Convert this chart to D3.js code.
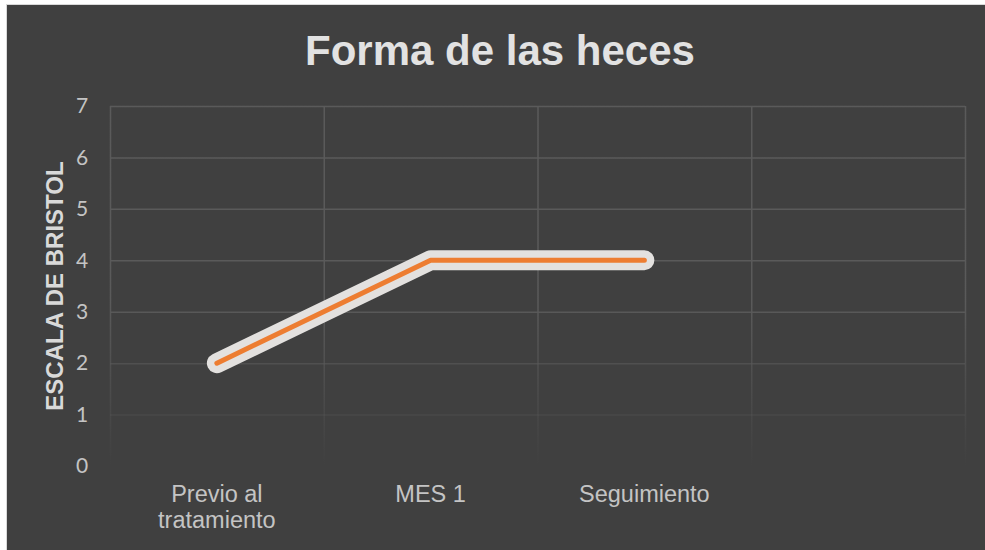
<!DOCTYPE html>
<html>
<head>
<meta charset="utf-8">
<script src="https://cdn.jsdelivr.net/npm/d3@7"></script>
<style>
  body { margin: 0; background: #ffffff; }
</style>
</head>
<body>
<script>
// data
var categories = [["Previo al", "tratamiento"], ["MES 1"], ["Seguimiento"], [""]];
var values = [2, 4, 4];
var yTicks = [0, 1, 2, 3, 4, 5, 6, 7];
var title = "Forma de las heces";
var yTitle = "ESCALA DE BRISTOL";

var width = 985, height = 550;

var svg = d3.select("body").append("svg")
    .attr("width", width)
    .attr("height", height);

// fading gradient for gridlines
var defs = svg.append("defs");
var grad = defs.append("linearGradient")
    .attr("id", "gridfade")
    .attr("gradientUnits", "userSpaceOnUse")
    .attr("x1", 0).attr("y1", 100)
    .attr("x2", 0).attr("y2", 466);
grad.append("stop").attr("offset", "0%").attr("stop-color", "#5a5a5a").attr("stop-opacity", 1);
grad.append("stop").attr("offset", "55%").attr("stop-color", "#5a5a5a").attr("stop-opacity", 1);
grad.append("stop").attr("offset", "100%").attr("stop-color", "#5a5a5a").attr("stop-opacity", 0);

svg.append("rect")
    .attr("x", 6.5).attr("y", 4.5)
    .attr("width", width).attr("height", height)
    .attr("fill", "#404040")
    .attr("stroke", "#d9d9d9")
    .attr("stroke-width", 1);

var x = d3.scaleBand().domain(d3.range(categories.length)).range([110, 965]);
var y = d3.scaleLinear().domain([0, 7]).range([466, 106]);

// horizontal grid
svg.append("g").selectAll("line")
    .data(yTicks)
    .enter().append("line")
    .attr("x1", 110).attr("x2", 965)
    .attr("y1", function(d) { return y(d) + 0.5; })
    .attr("y2", function(d) { return y(d) + 0.5; })
    .attr("stroke", "url(#gridfade)")
    .attr("stroke-width", 1.5);

// vertical grid
var vx = d3.range(categories.length + 1).map(function(i) {
    return i < categories.length ? x(i) : x.range()[1];
});
svg.append("g").selectAll("line")
    .data(vx)
    .enter().append("line")
    .attr("x1", function(d) { return d + 0.5; })
    .attr("x2", function(d) { return d + 0.5; })
    .attr("y1", 106).attr("y2", 466)
    .attr("stroke", "url(#gridfade)")
    .attr("stroke-width", 1.5);

// y tick labels
svg.append("g").selectAll("text")
    .data(yTicks)
    .enter().append("text")
    .attr("x", 82)
    .attr("y", function(d) { return y(d); })
    .attr("dy", "0.35em")
    .attr("text-anchor", "middle")
    .attr("font-family", "Lato, 'Open Sans', sans-serif")
    .attr("font-size", 21)
    .attr("fill", "#c4c4c4")
    .text(function(d) { return d; });

// x labels
var xl = svg.append("g").selectAll("text")
    .data(categories)
    .enter().append("text")
    .attr("x", function(d, i) { return x(i) + x.bandwidth() / 2; })
    .attr("y", 502)
    .attr("text-anchor", "middle")
    .attr("font-family", "'Liberation Sans', Arial, sans-serif")
    .attr("font-size", 23.5)
    .attr("fill", "#c4c4c4");
xl.selectAll("tspan")
    .data(function(d) { return d; })
    .enter().append("tspan")
    .attr("x", function() { return d3.select(this.parentNode).attr("x"); })
    .attr("dy", function(d, i) { return i === 0 ? 0 : 26; })
    .text(function(d) { return d; });

// line
var line = d3.line()
    .x(function(d, i) { return x(i) + x.bandwidth() / 2; })
    .y(function(d) { return y(d); });

svg.append("path")
    .datum(values)
    .attr("d", line)
    .attr("fill", "none")
    .attr("stroke", "#e3e1df")
    .attr("stroke-width", 20)
    .attr("stroke-linejoin", "round")
    .attr("stroke-linecap", "round");

svg.append("path")
    .datum(values)
    .attr("d", line)
    .attr("fill", "none")
    .attr("stroke", "#ed7d31")
    .attr("stroke-width", 5)
    .attr("stroke-linejoin", "round")
    .attr("stroke-linecap", "round");

// title
svg.append("text")
    .attr("x", 500)
    .attr("y", 65)
    .attr("text-anchor", "middle")
    .attr("font-family", "'Liberation Sans', Arial, sans-serif")
    .attr("font-weight", "bold")
    .attr("font-size", 42)
    .attr("fill", "#e2e2e2")
    .text(title);

// y axis title
svg.append("text")
    .attr("transform", "translate(63,286) rotate(-90)")
    .attr("text-anchor", "middle")
    .attr("font-family", "'Liberation Sans', Arial, sans-serif")
    .attr("font-weight", "bold")
    .attr("font-size", 24)
    .attr("fill", "#d9d9d9")
    .text(yTitle);
</script>
</body>
</html>
